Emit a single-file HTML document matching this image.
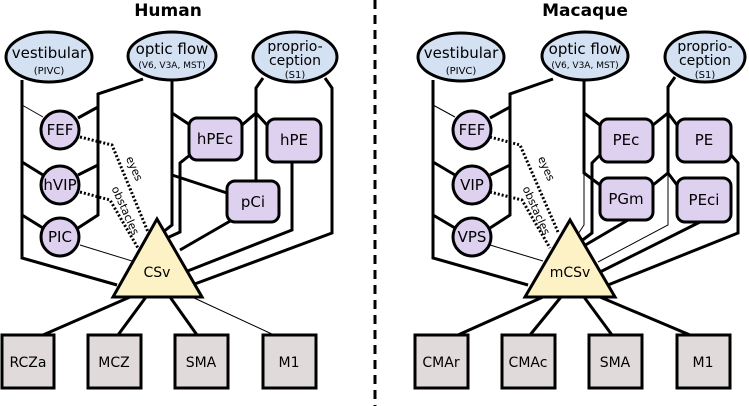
<!DOCTYPE html>
<html><head><meta charset="utf-8"><style>
html,body{margin:0;padding:0;background:#fff;}
svg{display:block;font-family:"DejaVu Sans","Liberation Sans",sans-serif;}
</style></head><body>
<svg width="749" height="406" viewBox="0 0 749 406" xmlns="http://www.w3.org/2000/svg">
<g fill="none" stroke="#000" stroke-linejoin="miter">
<g stroke-width="3">
<polyline points="22,80 22,258 117,285"/>
<line x1="22" y1="162" x2="43" y2="175"/>
<line x1="22" y1="215" x2="43" y2="228"/>
<polyline points="143,79 98,94 98,215 78,228"/>
<line x1="98" y1="107" x2="78" y2="118"/>
<line x1="98" y1="165" x2="78" y2="175"/>
<polyline points="172,80 172,225 163,232"/>
<line x1="172" y1="113" x2="190" y2="125"/>
<line x1="172" y1="175" x2="227" y2="193"/>
<polyline points="190,155 180,163 180,232 167,238"/>
<polyline points="263,78 256,88 256,181"/>
<line x1="256" y1="113" x2="242" y2="125"/>
<line x1="256" y1="113" x2="267" y2="125"/>
<polyline points="325,78 332,88 332,233 192,285"/>
<polyline points="292,163 292,230 185,272"/>
<line x1="232" y1="220" x2="180" y2="250"/>
<line x1="130" y1="297" x2="43" y2="335"/>
<line x1="146" y1="297" x2="118" y2="335"/>
<line x1="170" y1="297" x2="197" y2="335"/>
</g>
<g stroke-width="1">
<line x1="22" y1="105" x2="43" y2="117"/>
<line x1="80" y1="245" x2="132" y2="261"/>
<line x1="192" y1="297" x2="274" y2="335"/>
</g>
<g stroke-width="3" stroke-dasharray="2,2">
<polyline points="80,137 112,145 148,232"/>
<polyline points="80,192 110,200 138,248"/>
</g>
<g stroke-width="3">
<polyline points="433,80 433,258 528,285"/>
<line x1="433" y1="162" x2="455" y2="175"/>
<line x1="433" y1="215" x2="455" y2="228"/>
<polyline points="553,79 510,94 510,215 490,228"/>
<line x1="510" y1="107" x2="490" y2="118"/>
<line x1="510" y1="165" x2="490" y2="175"/>
<polyline points="584,80 584,173 600,185"/>
<line x1="584" y1="113" x2="600" y2="125"/>
<polyline points="600,155 592,163 592,233 580,242"/>
<polyline points="675,77 668,87 668,173"/>
<line x1="668" y1="113" x2="653" y2="125"/>
<line x1="668" y1="113" x2="677" y2="125"/>
<line x1="668" y1="173" x2="653" y2="185"/>
<line x1="668" y1="173" x2="677" y2="185"/>
<polyline points="731,155 738,163 738,233 608,285"/>
<line x1="628" y1="220" x2="582" y2="247"/>
<line x1="700" y1="222" x2="600" y2="272"/>
<line x1="543" y1="297" x2="458" y2="335"/>
<line x1="561" y1="297" x2="530" y2="335"/>
<line x1="584" y1="297" x2="612" y2="335"/>
<line x1="600" y1="297" x2="690" y2="335"/>
</g>
<g stroke-width="1">
<line x1="433" y1="105" x2="455" y2="117"/>
<line x1="490" y1="245" x2="543" y2="261"/>
<polyline points="584,173 584,225 578,234"/>
<polyline points="668,173 668,225 598,262"/>
</g>
<g stroke-width="3" stroke-dasharray="2,2">
<polyline points="490,137 520,145 558,232"/>
<polyline points="490,192 522,200 550,248"/>
</g>
<line x1="375" y1="0" x2="375" y2="406" stroke-width="3" stroke-dasharray="9,6"/>
</g>

<g stroke="#000" stroke-width="3">
<g fill="#d3e1f3">
<ellipse cx="49" cy="57" rx="43" ry="25"/>
<ellipse cx="172" cy="56" rx="44" ry="24"/>
<ellipse cx="295" cy="57" rx="42" ry="25"/>
<ellipse cx="461" cy="57" rx="43" ry="24"/>
<ellipse cx="585" cy="56" rx="43" ry="24"/>
<ellipse cx="705" cy="57" rx="40" ry="25"/>
</g>
<g fill="#ddd1ef">
<circle cx="60" cy="130" r="19"/><circle cx="60" cy="185" r="19"/><circle cx="60" cy="237" r="19"/>
<circle cx="472" cy="130" r="19"/><circle cx="472" cy="185" r="19"/><circle cx="472" cy="237" r="19"/>
<rect x="189" y="118" width="53" height="42" rx="8"/>
<rect x="267" y="119" width="54" height="43" rx="8"/>
<rect x="227" y="181" width="52" height="41" rx="8"/>
<rect x="600" y="119" width="53" height="43" rx="8"/>
<rect x="677" y="119" width="54" height="43" rx="8"/>
<rect x="600" y="178" width="53" height="42" rx="8"/>
<rect x="677" y="178" width="54" height="44" rx="8"/>
</g>
<g fill="#fdf2c6">
<polygon points="157,219 113,297 202,297"/>
<polygon points="570,220 525,297 615,297"/>
</g>
<g fill="#e1dada">
<rect x="2" y="335" width="52" height="53"/>
<rect x="88" y="335" width="53" height="53"/>
<rect x="175" y="335" width="53" height="53"/>
<rect x="263" y="335" width="53" height="53"/>
<rect x="415" y="335" width="53" height="53"/>
<rect x="502" y="335" width="53" height="53"/>
<rect x="589" y="335" width="53" height="53"/>
<rect x="677" y="335" width="53" height="53"/>
</g>
</g>

<g fill="#000" text-anchor="middle" font-size="15">
<text x="168" y="16" font-weight="bold" font-size="17">Human</text>
<text x="585" y="16" font-weight="bold" font-size="17">Macaque</text>
<text x="49" y="58">vestibular</text><text x="49" y="74" font-size="10">(PIVC)</text>
<text x="172" y="54">optic flow</text><text x="172" y="68" font-size="9">(V6, V3A, MST)</text>
<text x="295" y="51" font-size="14">proprio-</text><text x="295" y="65" font-size="14">ception</text><text x="295" y="78" font-size="10">(S1)</text>
<text x="461" y="58">vestibular</text><text x="461" y="74" font-size="10">(PIVC)</text>
<text x="585" y="54">optic flow</text><text x="585" y="68" font-size="9">(V6, V3A, MST)</text>
<text x="705" y="51" font-size="14">proprio-</text><text x="705" y="65" font-size="14">ception</text><text x="705" y="78" font-size="10">(S1)</text>
<text x="60" y="135">FEF</text><text x="60" y="190">hVIP</text><text x="60" y="242">PIC</text>
<text x="472" y="135">FEF</text><text x="472" y="190">VIP</text><text x="472" y="242">VPS</text>
<text x="215" y="144">hPEc</text><text x="294" y="145">hPE</text><text x="253" y="207">pCi</text>
<text x="626" y="145">PEc</text><text x="704" y="145">PE</text><text x="626" y="204">PGm</text><text x="704" y="205">PEci</text>
<text x="157" y="277" font-size="14">CSv</text><text x="570" y="277" font-size="14">mCSv</text>
<g font-size="14">
<text x="28" y="367">RCZa</text><text x="114" y="367">MCZ</text><text x="201" y="367">SMA</text><text x="289" y="367">M1</text>
<text x="441" y="367">CMAr</text><text x="528" y="367">CMAc</text><text x="615" y="367">SMA</text><text x="703" y="367">M1</text>
</g>
<g font-size="11">
<text transform="translate(131,170) rotate(66)">eyes</text>
<text transform="translate(122,212) rotate(66)">obstacles</text>
<text transform="translate(543,170) rotate(66)">eyes</text>
<text transform="translate(533,212) rotate(66)">obstacles</text>
</g>
</g>
</svg>
</body></html>
